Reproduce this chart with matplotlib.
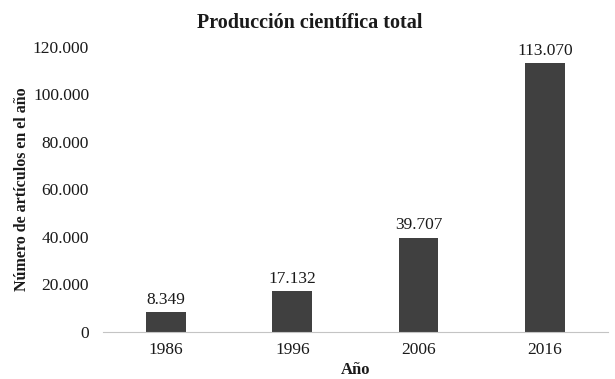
import matplotlib.pyplot as plt
from matplotlib.ticker import FuncFormatter

# datos
anios = ["1986", "1996", "2006", "2016"]
articulos = [8349, 17132, 39707, 113070]
y_ticks = [0, 20000, 40000, 60000, 80000, 100000, 120000]


def miles(v, pos=None):
    return f"{int(v):,}".replace(",", ".")


plt.rcParams['font.family'] = ['Liberation Serif', 'DejaVu Serif']

fig = plt.figure(figsize=(6.15, 3.79), dpi=100)
ax = fig.add_axes([0.1675, 0.124, 0.821, 0.753])

x = range(len(anios))
bars = ax.bar(x, articulos, width=0.315, color="#404040")

for b, v in zip(bars, articulos):
    ax.annotate(miles(v), (b.get_x() + b.get_width() / 2, v),
                xytext=(0, 3), textcoords="offset points",
                ha="center", va="bottom", fontsize=12.5, color="#1a1a1a")

ax.set_xlim(-0.5, 3.5)
ax.set_ylim(0, 120000)
ax.set_yticks(y_ticks)
ax.yaxis.set_major_formatter(FuncFormatter(miles))
ax.set_xticks(list(x))
ax.set_xticklabels(anios)
ax.tick_params(axis="both", length=0, labelsize=12.5, colors="#1a1a1a")
ax.tick_params(axis="y", pad=10)
ax.tick_params(axis="x", pad=7)

for s in ["top", "right", "left"]:
    ax.spines[s].set_visible(False)
ax.spines["bottom"].set_color("#c4c4c4")

fig.text(0.503, 0.94, "Producción científica total", ha="center", va="center",
         fontsize=14.5, fontweight="bold", color="#1a1a1a")
fig.text(0.036, 0.5, "Número de artículos en el año", ha="center", va="center",
         rotation=90, fontsize=11.5, fontweight="bold", color="#1a1a1a")
fig.text(0.578, 0.024, "Año", ha="center", va="center",
         fontsize=12, fontweight="bold", color="#1a1a1a")

fig.savefig("out.png", dpi=100)
